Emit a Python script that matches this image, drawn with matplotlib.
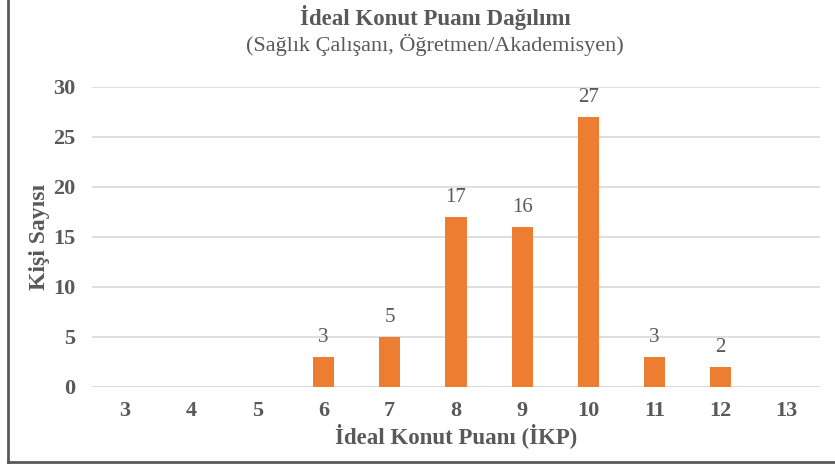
import matplotlib
matplotlib.use("Agg")
import matplotlib.pyplot as plt
from matplotlib.lines import Line2D

# İKP score distribution for the two professions
scores = [3, 4, 5, 6, 7, 8, 9, 10, 11, 12, 13]
counts = [0, 0, 0, 3, 5, 17, 16, 27, 3, 2, 0]
y_ticks = [0, 5, 10, 15, 20, 25, 30]

TITLE = "İdeal Konut Puanı Dağılımı"
SUBTITLE = "(Sağlık Çalışanı, Öğretmen/Akademisyen)"
XLABEL = "İdeal Konut Puanı (İKP)"
YLABEL = "Kişi Sayısı"

C_BAR = "#ED7D31"
C_INK = "#595959"
C_GRID = "#D9D9D9"
C_FRAME = "#595959"

plt.rcParams["font.family"] = ["Liberation Serif", "DejaVu Serif"]

fig = plt.figure(figsize=(8.35, 4.70), dpi=100)
ax = fig.add_axes([0.110, 0.177, 0.872, 0.638])

pos = list(range(len(scores)))
ax.bar(pos, counts, width=0.32, color=C_BAR, zorder=3)
for x, v in zip(pos, counts):
    if v > 0:
        ax.text(x, v + 1.0, str(v), ha="center", va="bottom", fontsize=15, color=C_INK)

ax.set_xlim(-0.5, len(scores) - 0.5)
ax.set_ylim(0, 30)
ax.set_xticks(pos)
ax.set_xticklabels([str(s) for s in scores])
ax.set_yticks(y_ticks)
ax.tick_params(axis="both", length=0, labelsize=16, colors=C_INK)
ax.tick_params(axis="x", pad=10)
ax.tick_params(axis="y", pad=12)
for lab in ax.get_xticklabels() + ax.get_yticklabels():
    lab.set_fontweight("bold")
ax.yaxis.grid(True, color=C_GRID, lw=1.2, zorder=0)
for s in ax.spines.values():
    s.set_visible(False)
ax.axhline(0, color=C_GRID, lw=1.2, zorder=1)

ax.set_xlabel(XLABEL, fontsize=16.5, fontweight="bold", color=C_INK, labelpad=2)
ax.set_ylabel(YLABEL, fontsize=17, fontweight="bold", color=C_INK, labelpad=2)

fig.text(0.521, 0.962, TITLE, ha="center", va="center", fontsize=16.5,
         fontweight="bold", color=C_INK)
fig.text(0.521, 0.904, SUBTITLE, ha="center", va="center", fontsize=16, color=C_INK)

# partial frame round the chart area (left and bottom edges)
fig.add_artist(Line2D([0.010, 0.010], [0.016, 1.0], transform=fig.transFigure,
                      color=C_FRAME, lw=2))
fig.add_artist(Line2D([0.010, 1.0], [0.016, 0.016], transform=fig.transFigure,
                      color=C_FRAME, lw=2))

fig.savefig("out.png", dpi=100)
